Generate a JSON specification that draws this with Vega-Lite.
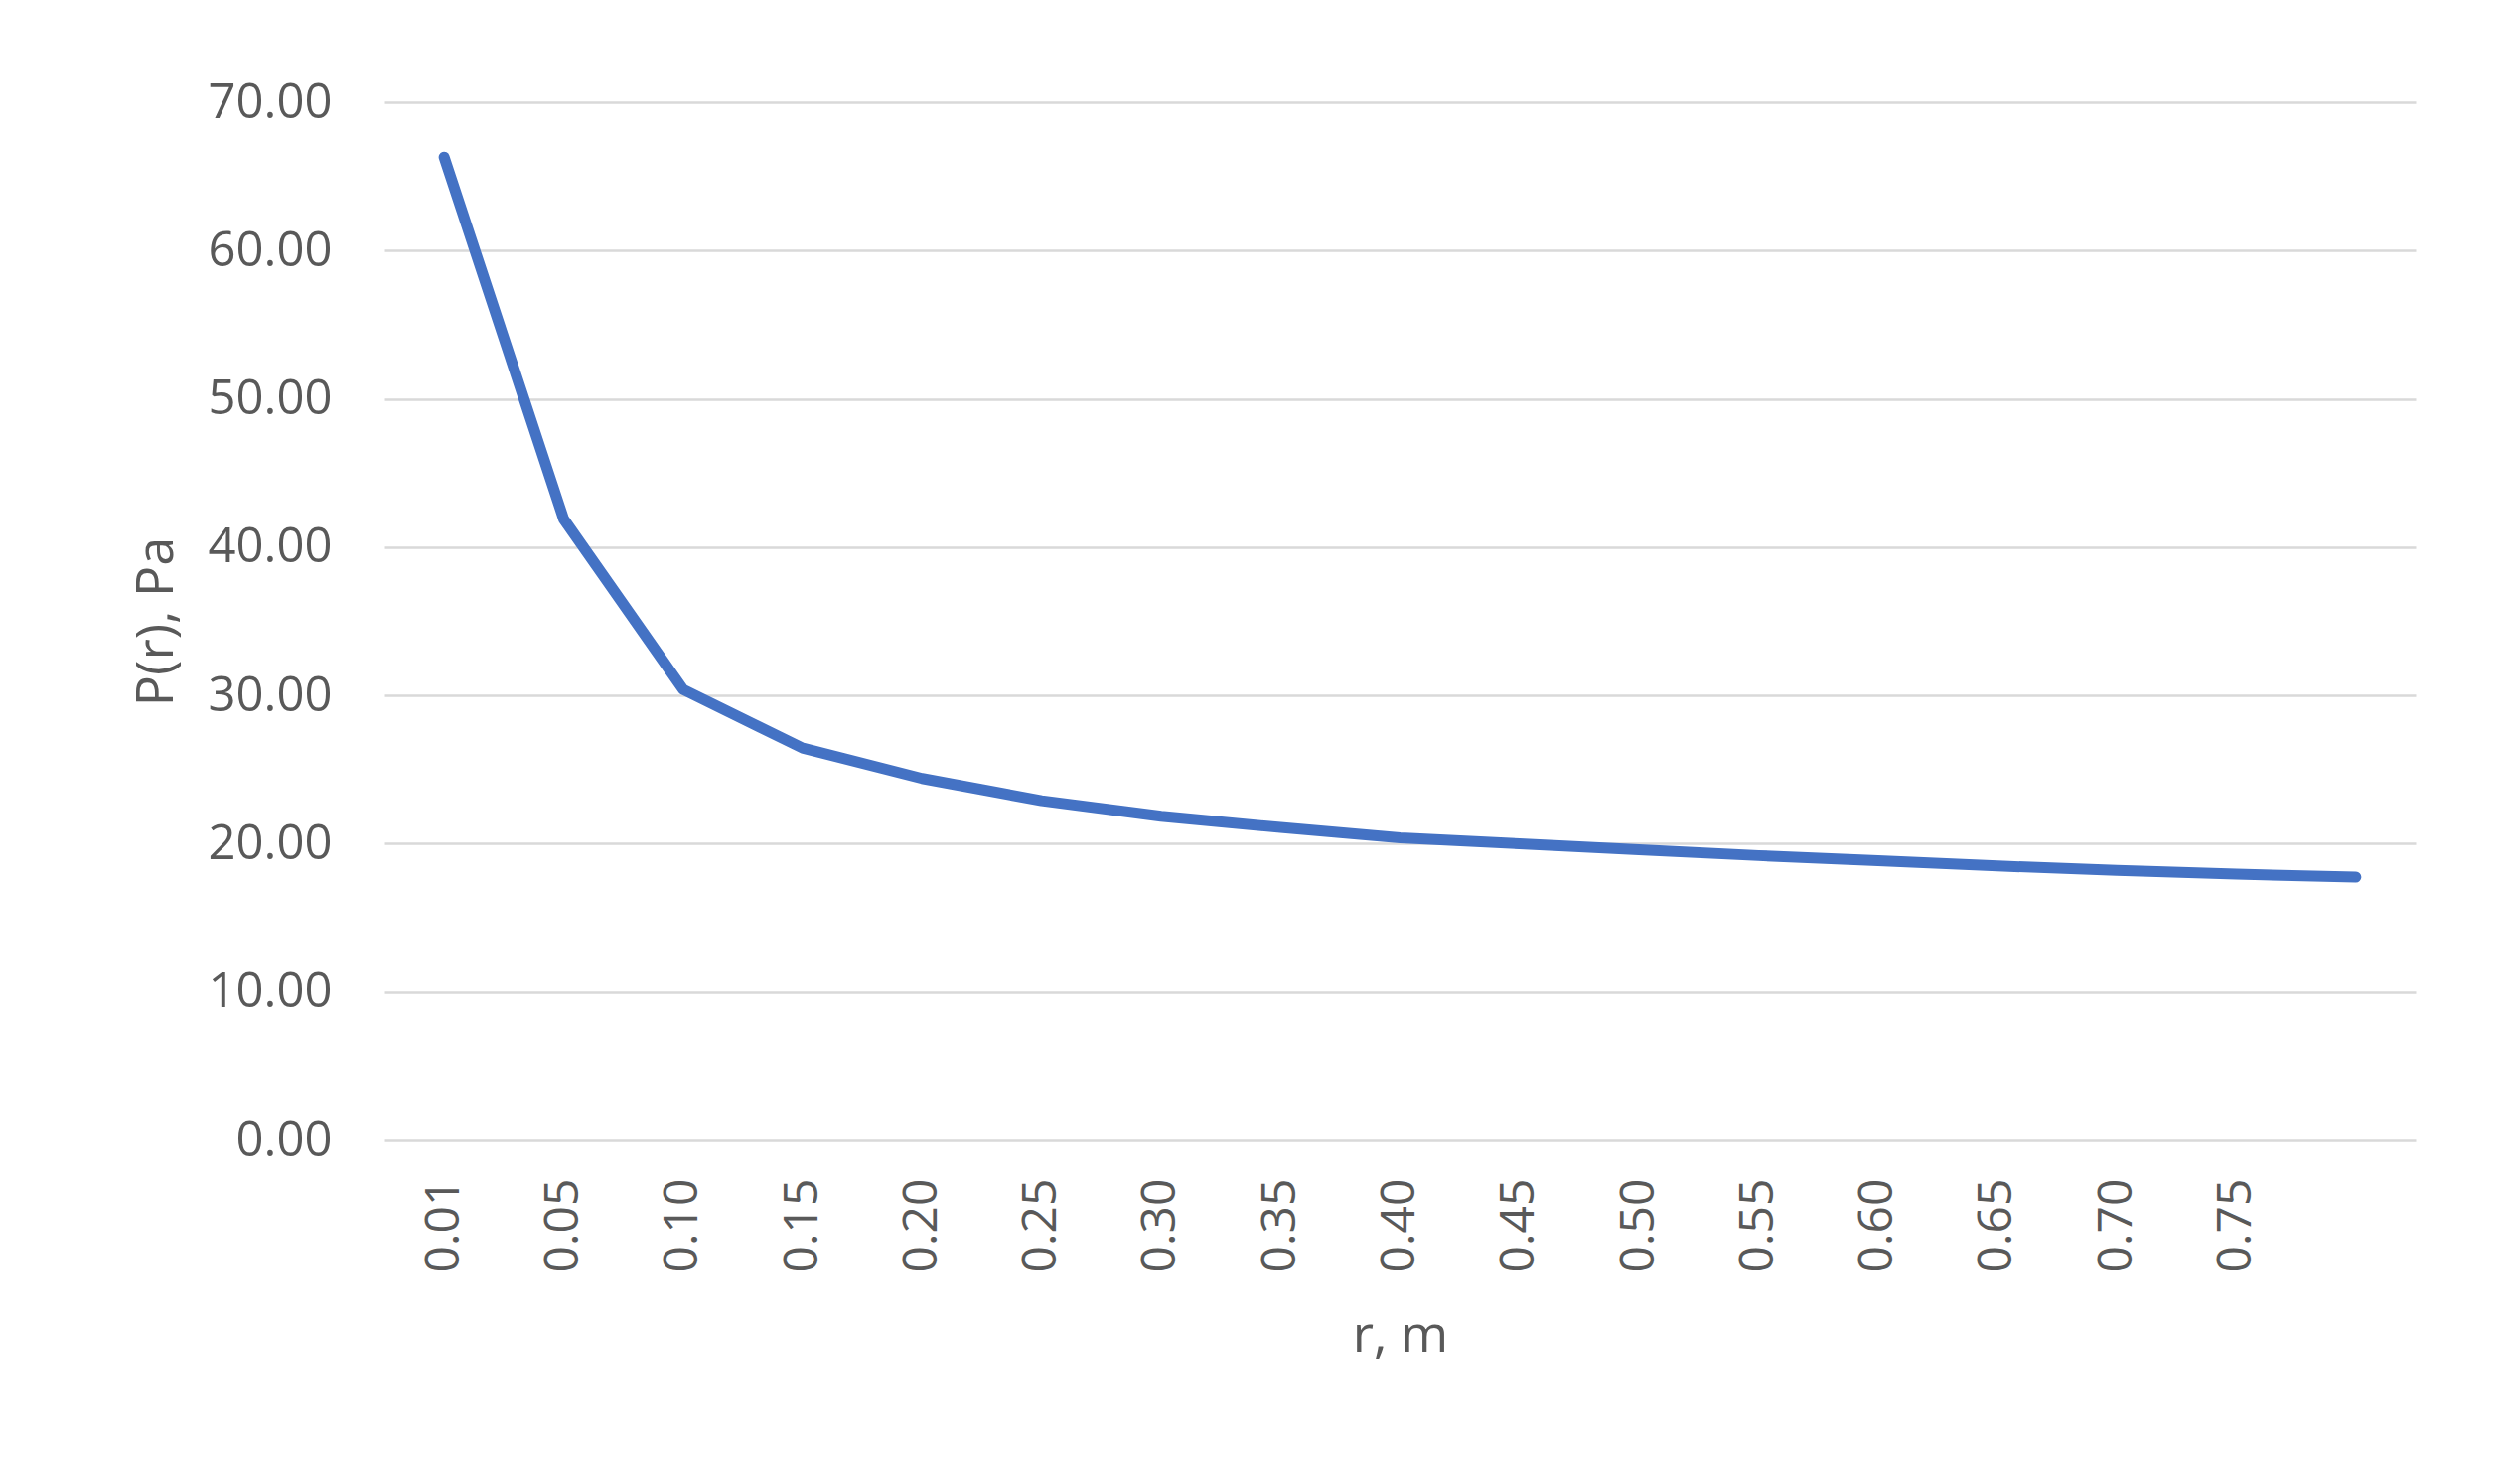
{
  "$schema": "https://vega.github.io/schema/vega-lite/v6.json",
  "autosize": {"type": "none"},
  "width": 2045,
  "height": 1045,
  "padding": {"left": 387, "top": 103, "right": 99, "bottom": 346},
  "background": "white",
  "config": {"view": {"stroke": null}},
  "data": {
    "values": [
      {"r": "0.01", "P": 66.3},
      {"r": "0.05", "P": 41.9},
      {"r": "0.10", "P": 30.4},
      {"r": "0.15", "P": 26.45},
      {"r": "0.20", "P": 24.4},
      {"r": "0.25", "P": 22.9},
      {"r": "0.30", "P": 21.85},
      {"r": "0.35", "P": 21.1},
      {"r": "0.40", "P": 20.4},
      {"r": "0.45", "P": 20.0},
      {"r": "0.50", "P": 19.6},
      {"r": "0.55", "P": 19.2},
      {"r": "0.60", "P": 18.85},
      {"r": "0.65", "P": 18.5},
      {"r": "0.70", "P": 18.2},
      {"r": "0.75", "P": 17.95},
      {"r": "0.80", "P": 17.75}
    ]
  },
  "mark": {"type": "line", "color": "#4472C4", "strokeWidth": 11, "strokeCap": "round", "strokeJoin": "round"},
  "encoding": {
    "x": {
      "field": "r",
      "type": "ordinal",
      "sort": null,
      "scale": {"type": "point", "padding": 0.5},
      "axis": {
        "title": "r, m",
        "labelAngle": 270,
        "labelExpr": "datum.value == '0.80' ? '' : datum.value",
        "labelFont": "Open Sans",
        "labelFontSize": 48,
        "labelColor": "#595959",
        "labelPadding": 38,
        "ticks": false,
        "domain": false,
        "grid": false,
        "titleFont": "Open Sans",
        "titleFontSize": 52,
        "titleFontWeight": "normal",
        "titleColor": "#595959",
        "titlePadding": 39
      }
    },
    "y": {
      "field": "P",
      "type": "quantitative",
      "scale": {"domain": [0, 70], "nice": false, "zero": true},
      "axis": {
        "title": "P(r), Pa",
        "values": [0, 10, 20, 30, 40, 50, 60, 70],
        "format": ".2f",
        "labelFont": "Open Sans",
        "labelFontSize": 49,
        "labelColor": "#595959",
        "labelPadding": 53,
        "ticks": false,
        "domain": false,
        "grid": true,
        "gridColor": "#d9d9d9",
        "gridWidth": 2.5,
        "titleFont": "Open Sans",
        "titleFontSize": 52,
        "titleFontWeight": "normal",
        "titleColor": "#595959",
        "titlePadding": 25
      }
    }
  }
}
